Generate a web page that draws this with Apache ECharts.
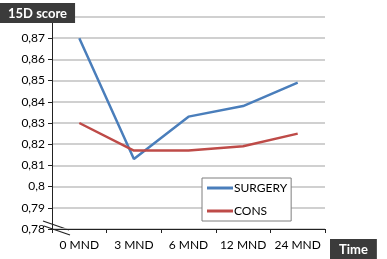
<!DOCTYPE html>
<html>
<head>
<meta charset="utf-8">
<script src="https://cdn.jsdelivr.net/npm/echarts@6/dist/echarts.min.js"></script>
<style>
  html, body { margin: 0; padding: 0; background: #fff; }
  #chart { width: 387px; height: 259px; }
</style>
</head>
<body>
<div id="chart"></div>
<script>
// data
const categories = ['0 MND', '3 MND', '6 MND', '12 MND', '24 MND'];
const surgery = [0.870, 0.813, 0.833, 0.838, 0.849];
const cons = [0.830, 0.817, 0.817, 0.819, 0.825];
const seriesNames = ['SURGERY', 'CONS'];

const font = 'Lato, "Open Sans", sans-serif';
const chart = echarts.init(document.getElementById('chart'));

const option = {
  animation: false,
  textStyle: { fontFamily: font },
  title: [
    {
      text: '15D score', left: 0, top: 3, padding: [4, 8, 3, 8],
      backgroundColor: '#3b3b3b',
      textStyle: { color: '#fff', fontSize: 13, fontWeight: 'bold', fontFamily: font }
    },
    {
      text: 'Time', left: 330, top: 239, padding: [4, 9, 3, 9],
      backgroundColor: '#3b3b3b',
      textStyle: { color: '#fff', fontSize: 13, fontWeight: 'bold', fontFamily: font }
    }
  ],
  grid: { left: 52, right: 62, top: 17, bottom: 30 },
  legend: {
    data: seriesNames,
    orient: 'vertical',
    left: 202, top: 178,
    padding: [4, 4, 4, 5],
    itemGap: 11,
    itemWidth: 26, itemHeight: 3,
    icon: 'rect',
    borderColor: '#7f7f7f', borderWidth: 1,
    backgroundColor: '#fff',
    textStyle: { color: '#000', fontSize: 12, fontFamily: font, padding: [0, 0, 0, -4] }
  },
  xAxis: {
    type: 'category',
    data: categories,
    boundaryGap: true,
    axisLine: { lineStyle: { color: '#222', width: 1 } },
    axisTick: { show: true, length: 4, lineStyle: { color: '#222' } },
    axisLabel: { color: '#000', fontSize: 12, margin: 10, interval: 0, fontFamily: font }
  },
  yAxis: {
    type: 'value',
    min: 0.78, max: 0.88, interval: 0.01,
    axisLine: { show: true, lineStyle: { color: '#222', width: 1 } },
    axisTick: { show: true, length: 4, inside: false, lineStyle: { color: '#222' } },
    splitLine: { lineStyle: { color: '#c0c0c0', width: 1.5 } },
    axisLabel: {
      color: '#000', fontSize: 12, margin: 7, fontFamily: font,
      formatter: function (v) {
        const r = Math.round(v * 100) / 100;
        if (r >= 0.88) return '';
        return String(r).replace('.', ',');
      }
    }
  },
  series: [
    {
      name: seriesNames[0], type: 'line', data: surgery,
      showSymbol: false, symbol: 'none',
      lineStyle: { color: '#4a7ebb', width: 2.5 },
      itemStyle: { color: '#4a7ebb' }
    },
    {
      name: seriesNames[1], type: 'line', data: cons,
      showSymbol: false, symbol: 'none',
      lineStyle: { color: '#be4b48', width: 2.5 },
      itemStyle: { color: '#be4b48' }
    }
  ],
  graphic: [
    // axis break marks
    { type: 'rect', shape: { x: 44, y: 224, width: 24, height: 8 }, style: { fill: '#fff' } },
    { type: 'line', shape: { x1: 43, y1: 221, x2: 69, y2: 230 }, style: { stroke: '#222', lineWidth: 1.2 } },
    { type: 'line', shape: { x1: 44, y1: 226, x2: 70, y2: 235 }, style: { stroke: '#222', lineWidth: 1.2 } }
  ]
};

chart.setOption(option);
</script>
</body>
</html>
